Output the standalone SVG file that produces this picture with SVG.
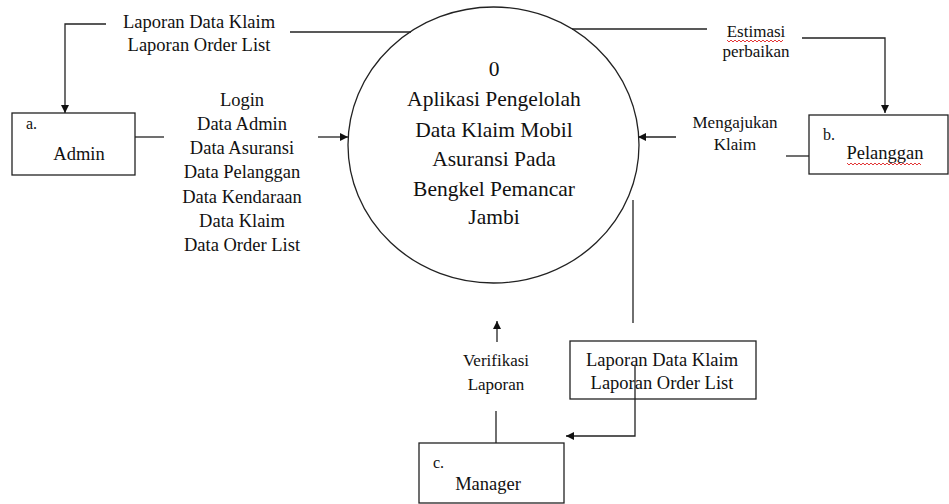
<svg xmlns="http://www.w3.org/2000/svg" width="949" height="504" viewBox="0 0 949 504" font-family="'Liberation Serif', 'Times New Roman', Times, 'DejaVu Serif', serif">
<style>
text{font-family:'Liberation Serif','Times New Roman',Times,'DejaVu Serif',serif;fill:#111;}
.t{font-size:18.5px;text-anchor:middle;}
.s{font-size:17px;text-anchor:middle;}
.c{font-size:21.5px;text-anchor:middle;}
.l{font-size:16px;}
.box{fill:#fff;stroke:#222;stroke-width:1.3;}
.ln{fill:none;stroke:#222;stroke-width:1.3;}
.sq{fill:none;stroke:#e02020;stroke-width:0.9;}
</style>
<defs>
<marker id="ah" viewBox="0 0 10 10" refX="10" refY="5" markerWidth="9" markerHeight="8" markerUnits="userSpaceOnUse" orient="auto">
<path d="M0,0 L10,5 L0,10 z" fill="#111"/>
</marker>
</defs>
<rect width="949" height="504" fill="#fff"/>
<g id="process0">
<ellipse cx="493.5" cy="145" rx="145.5" ry="138" class="box"/>
<text class="c" x="494" y="76">0</text>
<text class="c" x="494" y="106">Aplikasi Pengelolah</text>
<text class="c" x="494" y="137">Data Klaim Mobil</text>
<text class="c" x="494" y="166">Asuransi Pada</text>
<text class="c" x="494" y="196">Bengkel Pemancar</text>
<text class="c" x="494" y="224">Jambi</text>
</g>
<g id="admin">
<rect x="12" y="113" width="123" height="62" class="box"/>
<text class="l" x="26" y="129">a.</text>
<text class="t" x="79" y="160">Admin</text>
</g>
<g id="pelanggan">
<rect x="809" y="115" width="139" height="59" class="box"/>
<text class="l" x="823" y="140">b.</text>
<text class="t" x="885" y="159">Pelanggan</text>
<path class="sq" d="M847,163 l2,2 l2,-2 l2,2 l2,-2 l2,2 l2,-2 l2,2 l2,-2 l2,2 l2,-2 l2,2 l2,-2 l2,2 l2,-2 l2,2 l2,-2 l2,2 l2,-2 l2,2 l2,-2 l2,2 l2,-2 l2,2 l2,-2 l2,2 l2,-2 l2,2 l2,-2 l2,2 l2,-2 l2,2 l2,-2 l2,2 l2,-2 l2,2 l2,-2 l2,2"/>
</g>
<g id="manager">
<rect x="419" y="443" width="145" height="60" class="box"/>
<text class="l" x="433" y="468">c.</text>
<text class="t" x="488" y="490">Manager</text>
</g>
<g id="laporanBox">
<rect x="570" y="341" width="186" height="58" class="box"/>
<text class="t" x="662" y="366">Laporan Data Klaim</text>
<text class="t" x="662" y="389">Laporan Order List</text>
</g>
<g id="connectors">
<path class="ln" d="M106,24 H65 V113" marker-end="url(#ah)"/>
<path class="ln" d="M290,32 H411"/>
<text class="t" x="199" y="28">Laporan Data Klaim</text>
<text class="t" x="199" y="51">Laporan Order List</text>
<path class="ln" d="M135,137 H164"/>
<path class="ln" d="M318,137 H348" marker-end="url(#ah)"/>
<text class="t" x="242" y="106">Login</text>
<text class="t" x="242" y="130">Data Admin</text>
<text class="t" x="242" y="154">Data Asuransi</text>
<text class="t" x="242" y="178">Data Pelanggan</text>
<text class="t" x="242" y="203">Data Kendaraan</text>
<text class="t" x="242" y="227">Data Klaim</text>
<text class="t" x="242" y="251">Data Order List</text>
<path class="ln" d="M572,29 H707"/>
<path class="ln" d="M802,38 H885 V113" marker-end="url(#ah)"/>
<text class="s" x="756" y="37">Estimasi</text>
<path class="sq" d="M727,40 l2,2 l2,-2 l2,2 l2,-2 l2,2 l2,-2 l2,2 l2,-2 l2,2 l2,-2 l2,2 l2,-2 l2,2 l2,-2 l2,2 l2,-2 l2,2 l2,-2 l2,2 l2,-2 l2,2 l2,-2 l2,2 l2,-2 l2,2 l2,-2 l2,2 l2,-2"/>
<text class="s" x="756" y="57">perbaikan</text>
<path class="ln" d="M676,137 H638" marker-end="url(#ah)"/>
<path class="ln" d="M786,156 H809"/>
<text class="s" x="735" y="128">Mengajukan</text>
<text class="s" x="735" y="150">Klaim</text>
<path class="ln" d="M633,200 V323"/>
<path class="ln" d="M635,365 V436 H566" marker-end="url(#ah)"/>
<path class="ln" d="M497,342 V321" marker-end="url(#ah)"/>
<path class="ln" d="M496,411 V443"/>
<text class="s" x="496" y="366">Verifikasi</text>
<text class="s" x="496" y="390">Laporan</text>
</g>
</svg>
